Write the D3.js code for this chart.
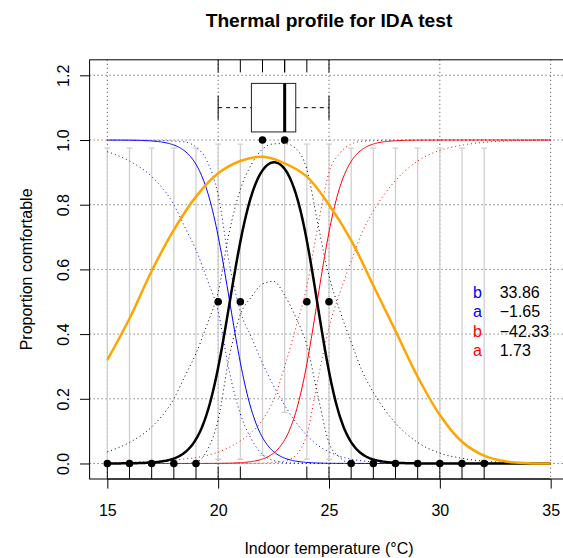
<!DOCTYPE html>
<html>
<head>
<meta charset="utf-8">
<script src="https://cdn.jsdelivr.net/npm/d3@7"></script>
<style>
  body { margin: 0; background: #fff; }
  svg { display: block; }
  text { font-family: "Liberation Sans", Arial, Helvetica, sans-serif; }
</style>
</head>
<body>
<svg id="chart" width="563" height="558"></svg>
<script>
// ---- data -------------------------------------------------------------
const xTicks = [15, 20, 25, 30, 35];
const yTicks = [0, 0.2, 0.4, 0.6, 0.8, 1.0, 1.2];

// individual votes by indoor temperature
const comfortableVotes   = [20, 21, 22, 23, 23, 24, 25];
const uncomfortableVotes = [15, 16, 17, 18, 19, 20, 21, 24, 25, 26, 27, 28, 29, 30, 31, 32];

// binomial interval per observed temperature
const obsTemps = [15, 16, 17, 18, 19, 20, 21, 22, 23, 24, 25, 26, 27, 28, 29, 30, 31, 32];
const ciLower  = [0, 0, 0, 0, 0, 0.013, 0.013, 0.025, 0.158, 0.013, 0.013, 0, 0, 0, 0, 0, 0, 0];
const ciUpper  = [0.975, 0.975, 0.975, 0.975, 0.975, 0.987, 0.987, 1, 1, 0.987, 0.987, 0.975, 0.975, 0.975, 0.975, 0.975, 0.975, 0.975];

// logistic coefficients (intercept b, slope a)
const coldCoef = [33.86, -1.65];
const warmCoef = [-42.33, 1.73];

// interval bands of the two logistic fits
const bandTemps = [15, 16, 17, 18, 18.5, 19, 19.5, 20, 20.5, 21, 21.5, 22, 22.5, 23, 23.5, 24, 24.5, 25, 25.5, 26, 26.5, 27, 28, 29, 30, 31, 32, 33, 34, 35];
const coldLower = [0.964, 0.935, 0.887, 0.80, 0.73, 0.66, 0.57, 0.47, 0.285, 0.153, 0.075, 0.027, 0.009, 0.003, 0.001, 0.0005, 0.0002, 0.0001, 0, 0, 0, 0, 0, 0, 0, 0, 0, 0, 0, 0];
const coldUpper = [0.9998, 0.9995, 0.999, 0.997, 0.994, 0.978, 0.935, 0.83, 0.62, 0.47, 0.39, 0.31, 0.24, 0.18, 0.128, 0.087, 0.056, 0.036, 0.022, 0.013, 0.008, 0.005, 0.0017, 0.0006, 0.0002, 0, 0, 0, 0, 0];
const warmLower = [0, 0, 0, 0, 0, 0, 0, 0, 0, 0.0001, 0.0005, 0.001, 0.003, 0.008, 0.025, 0.09, 0.26, 0.42, 0.53, 0.625, 0.715, 0.78, 0.875, 0.935, 0.968, 0.984, 0.993, 0.997, 0.999, 1];
const warmUpper = [0.002, 0.004, 0.006, 0.01, 0.014, 0.018, 0.025, 0.035, 0.05, 0.07, 0.095, 0.135, 0.197, 0.30, 0.42, 0.547, 0.735, 0.90, 0.96, 0.988, 0.996, 0.998, 0.9995, 1, 1, 1, 1, 1, 1, 1];

// bell-shaped comfort curve
const bellTemps  = [15, 16, 17, 18, 19, 20, 21, 22, 23, 24, 25, 26, 27, 28, 29, 30, 31, 32, 33, 34, 35];
const bellValues = [0.32, 0.448, 0.595, 0.722, 0.825, 0.897, 0.935, 0.948, 0.928, 0.887, 0.80, 0.69, 0.55, 0.41, 0.268, 0.15, 0.067, 0.024, 0.006, 0.001, 0];

// ---- layout -----------------------------------------------------------
const plot = { left: 89.6, right: 568.4, top: 59.8, bottom: 479 };
const x = d3.scaleLinear().domain([14.2, 35.8]).range([plot.left, plot.right]);
const y = d3.scaleLinear().domain([-0.048, 1.248]).range([plot.bottom, plot.top]);

const svg = d3.select("#chart");
svg.append("defs").append("clipPath").attr("id", "plotClip")
  .append("rect")
  .attr("x", plot.left).attr("y", plot.top)
  .attr("width", plot.right - plot.left).attr("height", plot.bottom - plot.top);

const g = svg.append("g").attr("clip-path", "url(#plotClip)");

// grid
g.selectAll("line.vgrid").data(xTicks).join("line")
  .attr("x1", d => x(d)).attr("x2", d => x(d))
  .attr("y1", plot.top).attr("y2", plot.bottom)
  .attr("stroke", "#444").attr("stroke-width", 1).attr("stroke-dasharray", "1,3");
g.selectAll("line.hgrid").data(yTicks).join("line")
  .attr("x1", plot.left).attr("x2", plot.right)
  .attr("y1", d => y(d)).attr("y2", d => y(d))
  .attr("stroke", "#444").attr("stroke-width", 1).attr("stroke-dasharray", "1,3");

// interval segments with caps
const ciData = obsTemps.map((t, i) => ({ t, lo: ciLower[i], hi: ciUpper[i] }));
const ciG = g.append("g").attr("stroke", "#d0d0d0").attr("stroke-width", 1.3);
ciG.selectAll("line.seg").data(ciData).join("line")
  .attr("x1", d => x(d.t)).attr("x2", d => x(d.t))
  .attr("y1", d => y(d.lo)).attr("y2", d => y(d.hi));
ciG.selectAll("line.capHi").data(ciData).join("line")
  .attr("x1", d => x(d.t) - 3).attr("x2", d => x(d.t) + 3)
  .attr("y1", d => y(d.hi)).attr("y2", d => y(d.hi));
ciG.selectAll("line.capLo").data(ciData.filter(d => d.lo > 0)).join("line")
  .attr("x1", d => x(d.t) - 3).attr("x2", d => x(d.t) + 3)
  .attr("y1", d => y(d.lo)).attr("y2", d => y(d.lo));

// dotted bands
const bandLine = d3.line().x(d => x(d[0])).y(d => y(d[1])).curve(d3.curveMonotoneX);
const comfortUpper = bandTemps.map((t, i) => Math.min(1, 1 - coldLower[i] - warmLower[i]));
const comfortLower = bandTemps.map((t, i) => Math.max(0, 1 - coldUpper[i] - warmUpper[i]));
const bands = [
  { vals: coldLower, color: "blue" },
  { vals: coldUpper, color: "blue" },
  { vals: warmLower, color: "red" },
  { vals: warmUpper, color: "red" },
  { vals: comfortUpper, color: "black" },
  { vals: comfortLower, color: "black" }
];
bands.forEach(b => {
  g.append("path")
    .datum(bandTemps.map((t, i) => [t, b.vals[i]]))
    .attr("d", bandLine)
    .attr("fill", "none").attr("stroke", b.color)
    .attr("stroke-width", 1).attr("stroke-dasharray", "1,3");
});

// fitted curves
const logistic = (coef, t) => 1 / (1 + Math.exp(-(coef[0] + coef[1] * t)));
const fine = d3.range(15, 35.0001, 0.05);
const fitLine = d3.line().x(d => x(d[0])).y(d => y(d[1]));
g.append("path").datum(fine.map(t => [t, logistic(coldCoef, t)])).attr("d", fitLine)
  .attr("fill", "none").attr("stroke", "blue").attr("stroke-width", 1);
g.append("path").datum(fine.map(t => [t, logistic(warmCoef, t)])).attr("d", fitLine)
  .attr("fill", "none").attr("stroke", "red").attr("stroke-width", 1);
g.append("path").datum(fine.map(t => [t, 1 - logistic(coldCoef, t) - logistic(warmCoef, t)])).attr("d", fitLine)
  .attr("fill", "none").attr("stroke", "black").attr("stroke-width", 2.5);

// bell curve
g.append("path").datum(bellTemps.map((t, i) => [t, bellValues[i]]))
  .attr("d", d3.line().x(d => x(d[0])).y(d => y(d[1])).curve(d3.curveCatmullRom.alpha(0.5)))
  .attr("fill", "none").attr("stroke", "orange").attr("stroke-width", 2.5);

// observed proportions
const pointData = obsTemps.map(t => {
  const c = comfortableVotes.filter(v => v === t).length;
  const u = uncomfortableVotes.filter(v => v === t).length;
  return { t, p: c / (c + u) };
});
g.selectAll("circle.obs").data(pointData).join("circle")
  .attr("cx", d => x(d.t)).attr("cy", d => y(d.p)).attr("r", 3.8).attr("fill", "black");

// rugs
const rugLen = 0.03 * (plot.bottom - plot.top);
g.selectAll("line.rugB").data(uncomfortableVotes).join("line")
  .attr("x1", d => x(d)).attr("x2", d => x(d))
  .attr("y1", plot.bottom).attr("y2", plot.bottom - rugLen)
  .attr("stroke", "black").attr("stroke-width", 1);
g.selectAll("line.rugT").data(comfortableVotes).join("line")
  .attr("x1", d => x(d)).attr("x2", d => x(d))
  .attr("y1", plot.top).attr("y2", plot.top + rugLen)
  .attr("stroke", "black").attr("stroke-width", 1);

// boxplot of comfortable votes
const sorted = comfortableVotes.slice().sort(d3.ascending);
const q1 = d3.quantile(sorted, 0.25), med = d3.quantile(sorted, 0.5), q3 = d3.quantile(sorted, 0.75);
const wLo = d3.min(sorted), wHi = d3.max(sorted);
const boxAt = 1.1, boxHalf = 0.075;
const bx = g.append("g");
bx.append("line").attr("x1", x(wLo)).attr("x2", x(q1)).attr("y1", y(boxAt)).attr("y2", y(boxAt))
  .attr("stroke", "black").attr("stroke-dasharray", "4,4");
bx.append("line").attr("x1", x(q3)).attr("x2", x(wHi)).attr("y1", y(boxAt)).attr("y2", y(boxAt))
  .attr("stroke", "black").attr("stroke-dasharray", "4,4");
[wLo, wHi].forEach(w => {
  bx.append("line").attr("x1", x(w)).attr("x2", x(w))
    .attr("y1", y(boxAt + boxHalf / 2)).attr("y2", y(boxAt - boxHalf / 2))
    .attr("stroke", "black");
});
bx.append("rect").attr("x", x(q1)).attr("y", y(boxAt + boxHalf))
  .attr("width", x(q3) - x(q1)).attr("height", y(boxAt - boxHalf) - y(boxAt + boxHalf))
  .attr("fill", "white").attr("stroke", "#222").attr("stroke-width", 1);
bx.append("line").attr("x1", x(med)).attr("x2", x(med))
  .attr("y1", y(boxAt + boxHalf)).attr("y2", y(boxAt - boxHalf))
  .attr("stroke", "black").attr("stroke-width", 3);

// coefficient labels
const legendRows = [
  { letter: "b", color: "blue", value: coldCoef[0], at: 0.53 },
  { letter: "a", color: "blue", value: coldCoef[1], at: 0.47 },
  { letter: "b", color: "red",  value: warmCoef[0], at: 0.41 },
  { letter: "a", color: "red",  value: warmCoef[1], at: 0.35 }
];
const fmt = d3.format(".2f");
const lg = svg.append("g").style("font-size", "16px");
lg.selectAll("text.letter").data(legendRows).join("text")
  .attr("x", x(31.7)).attr("y", d => y(d.at) + 5.7)
  .attr("text-anchor", "middle").attr("fill", d => d.color).text(d => d.letter);
lg.selectAll("text.val").data(legendRows).join("text")
  .attr("x", x(32.7)).attr("y", d => y(d.at) + 5.7)
  .attr("fill", "black").text(d => fmt(d.value));

// axes
const xAxis = svg.append("g").attr("transform", `translate(0,${plot.bottom})`)
  .call(d3.axisBottom(x).tickValues(xTicks).tickSize(9.6).tickFormat(d3.format("d")));
xAxis.select(".domain").remove();
xAxis.append("line").attr("x1", x(15)).attr("x2", x(35)).attr("stroke", "black");
xAxis.selectAll("text").attr("y", 36.5).attr("dy", 0).style("font-size", "16px").attr("fill", "black");

const yAxis = svg.append("g").attr("transform", `translate(${plot.left},0)`)
  .call(d3.axisLeft(y).tickValues(yTicks).tickSize(9.6).tickFormat(d3.format(".1f")));
yAxis.select(".domain").remove();
yAxis.selectAll(".tick text")
  .attr("transform", "rotate(-90)").attr("x", 0).attr("y", -21).attr("dy", 0)
  .attr("text-anchor", "middle").style("font-size", "16px").attr("fill", "black");

// plot frame
svg.append("rect").attr("x", plot.left).attr("y", plot.top)
  .attr("width", plot.right - plot.left).attr("height", plot.bottom - plot.top)
  .attr("fill", "none").attr("stroke", "black").attr("stroke-width", 1);

// titles
svg.append("text").attr("x", (plot.left + plot.right) / 2).attr("y", 27)
  .attr("text-anchor", "middle").style("font-size", "19.2px").style("font-weight", "bold")
  .text("Thermal profile for IDA test");
svg.append("text").attr("x", (plot.left + plot.right) / 2).attr("y", 553.5)
  .attr("text-anchor", "middle").style("font-size", "16px")
  .text("Indoor temperature (°C)");
svg.append("text")
  .attr("transform", `translate(32,${(plot.top + plot.bottom) / 2}) rotate(-90)`)
  .attr("text-anchor", "middle").style("font-size", "16px")
  .text("Proportion comfortable");
</script>
</body>
</html>
